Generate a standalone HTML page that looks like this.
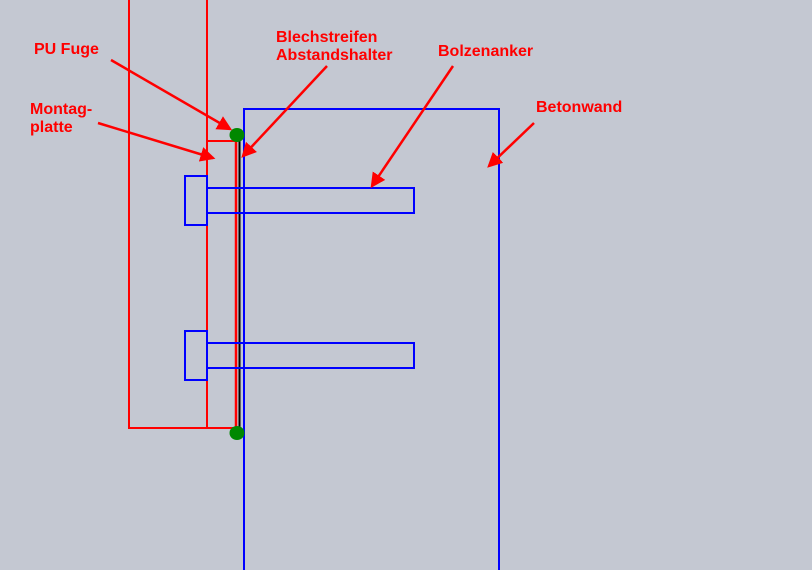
<!DOCTYPE html>
<html><head><meta charset="utf-8"><style>
html,body{margin:0;padding:0;background:#c4c8d2;}
svg{display:block}
text{font-family:"Liberation Sans",Arial,sans-serif;font-weight:bold;font-size:16px;fill:#ff0000}
</style></head><body>
<svg width="812" height="570" viewBox="0 0 812 570" xmlns="http://www.w3.org/2000/svg">
<defs>
<marker id="a" markerWidth="6" markerHeight="6" refX="5" refY="3" orient="auto" markerUnits="strokeWidth">
<path d="M0,0 L6,3 L0,6 Z" fill="#ff0000"/>
</marker>
</defs>
<rect width="812" height="570" fill="#c4c8d2"/>
<g stroke="#ff0000" stroke-width="2" fill="none">
<line x1="129" y1="0" x2="129" y2="428"/>
<line x1="207" y1="0" x2="207" y2="428"/>
<line x1="128" y1="428" x2="237" y2="428"/>
<line x1="207" y1="141" x2="236" y2="141"/>
<line x1="236" y1="136" x2="236" y2="430" stroke-width="2.5"/>
</g>
<line x1="239.5" y1="136" x2="239.5" y2="430" stroke="#000" stroke-width="2"/>
<g stroke="#0000ff" stroke-width="2" fill="none">
<path d="M244,570 V109 H499 V570"/>
<rect x="185" y="176" width="22" height="49"/>
<rect x="207" y="188" width="207" height="25"/>
<rect x="185" y="331" width="22" height="49"/>
<rect x="207" y="343" width="207" height="25"/>
</g>
<ellipse cx="237" cy="135" rx="7.5" ry="7" fill="#008800"/>
<ellipse cx="237" cy="433" rx="7.5" ry="7" fill="#008800"/>
<g stroke="#ff0000" stroke-width="2.5" fill="none" marker-end="url(#a)">
<line x1="111" y1="60" x2="230" y2="129"/>
<line x1="98" y1="123" x2="213" y2="158"/>
<line x1="327" y1="66" x2="243" y2="156"/>
<line x1="453" y1="66" x2="372" y2="186"/>
<line x1="534" y1="123" x2="489" y2="166"/>
</g>
<text x="34" y="54">PU Fuge</text>
<text x="30" y="114">Montag-</text>
<text x="30" y="132">platte</text>
<text x="276" y="42">Blechstreifen</text>
<text x="276" y="60">Abstandshalter</text>
<text x="438" y="56">Bolzenanker</text>
<text x="536" y="112">Betonwand</text>
</svg>
</body></html>
